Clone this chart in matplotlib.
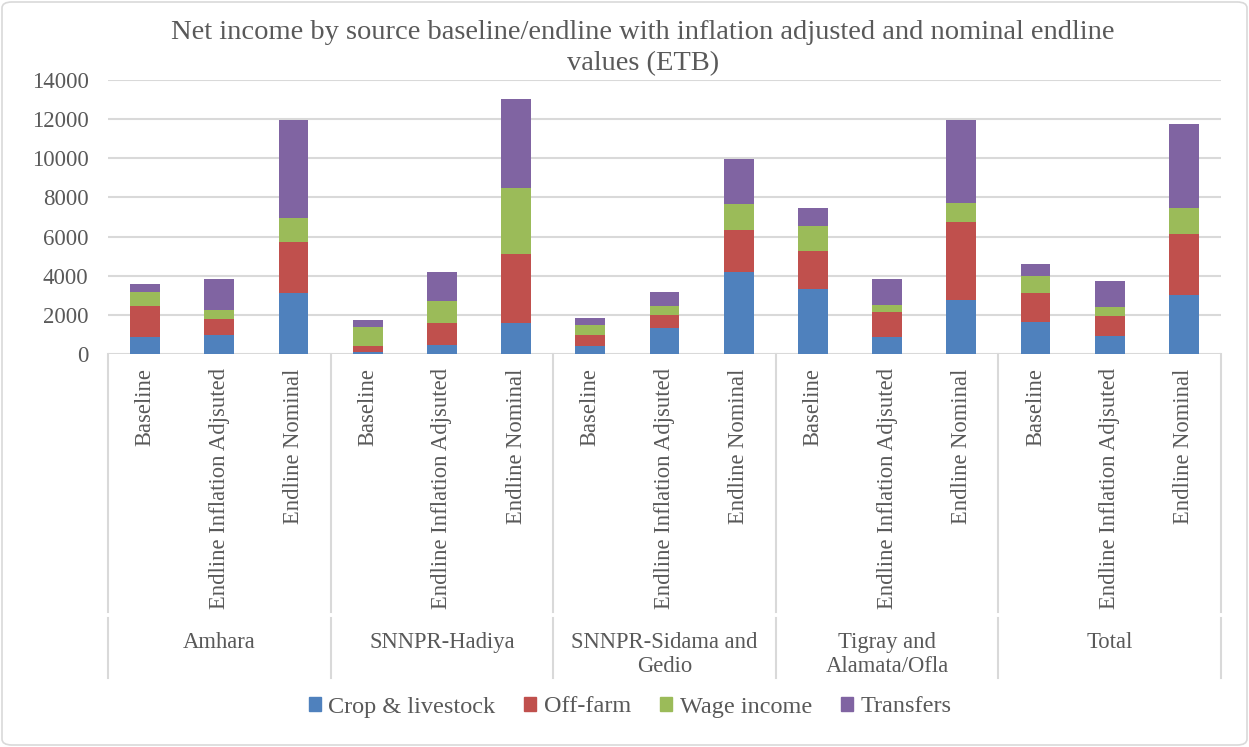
import numpy as np
import matplotlib
matplotlib.use("Agg")
import matplotlib.pyplot as plt
from matplotlib.patches import FancyBboxPatch, Patch

regions = ["Amhara", "SNNPR-Hadiya", "SNNPR-Sidama and\nGedio",
           "Tigray and\nAlamata/Ofla", "Total"]
rounds = ["Baseline", "Endline Inflation Adjsuted", "Endline Nominal"]
sources = ["Crop & livestock", "Off-farm", "Wage income", "Transfers"]

# one value per bar, regions in order, three rounds each (ETB)
crop = [850, 950, 3130, 100, 480, 1560, 410, 1330, 4210,
        3310, 870, 2770, 1650, 930, 3010]
off_farm = [1610, 850, 2600, 320, 1120, 3570, 560, 660, 2130,
            1960, 1270, 3990, 1460, 1010, 3110]
wage = [730, 430, 1200, 970, 1100, 3350, 510, 460, 1320,
        1250, 340, 950, 900, 440, 1340]
transfers = [380, 1580, 5030, 330, 1480, 4530, 350, 740, 2310,
             920, 1330, 4250, 610, 1360, 4300]

colors = ["#4F81BD", "#C0504D", "#9BBB59", "#8064A2"]
txt = "#595959"
grid = "#D9D9D9"

plt.rcParams["font.family"] = ["Liberation Serif", "DejaVu Serif"]

W, H = 1249, 747
fig = plt.figure(figsize=(W / 100, H / 100), dpi=100)
ax = fig.add_axes([108 / W, 1 - 354 / H, (1221 - 108) / W, (354 - 80) / H])

x = np.arange(len(crop))
bottom = np.zeros(len(crop))
for vals, c in zip([crop, off_farm, wage, transfers], colors):
    ax.bar(x, vals, width=0.4, bottom=bottom, color=c, zorder=3)
    bottom += np.array(vals)

ax.set_xlim(-0.5, len(crop) - 0.5)
ax.set_ylim(0, 14000)
ax.set_yticks(np.arange(0, 14001, 2000))
ax.yaxis.grid(True, color=grid, linewidth=1.5, zorder=0)
ax.tick_params(axis="y", length=0, labelsize=16.5, labelcolor=txt, pad=14)
ax.tick_params(axis="x", length=0, labelbottom=False)
for s in ax.spines.values():
    s.set_visible(False)

# category axis drawn by hand: rotated round labels, region names, separators
tr = ax.get_xaxis_transform()
for i in x:
    ax.text(i, -0.052, rounds[i % 3], rotation=90, ha="center", va="top",
            fontsize=16.3, color=txt, transform=tr)
for g, name in enumerate(regions):
    ax.text(3 * g + 1, -1.013, name, ha="center", va="top", fontsize=16.3,
            color=txt, transform=tr, linespacing=1.2)
for b in np.arange(-0.5, len(crop), 3):
    ax.plot([b, b], [0, -0.94], color=grid, lw=1.5, transform=tr, clip_on=False)
    ax.plot([b, b], [-0.965, -1.182], color=grid, lw=1.5, transform=tr,
            clip_on=False)

fig.text(643 / W, 1 - 48 / H,
         "Net income by source baseline/endline with inflation adjusted and nominal endline\nvalues (ETB)",
         ha="center", va="center", fontsize=20.5, color=txt, linespacing=1.35)

handles = [Patch(color=c, label=s) for c, s in zip(colors, sources)]
fig.legend(handles=handles, loc="center", bbox_to_anchor=(630 / W, 1 - 707 / H),
           ncol=4, frameon=False, fontsize=17.5, handlelength=0.5,
           handleheight=0.5, handletextpad=0.3, columnspacing=1.2,
           labelcolor=txt)

fig.patches.append(FancyBboxPatch((2 / W, 2 / H), 1 - 4 / W, 1 - 4 / H,
                                  boxstyle="round,pad=0,rounding_size=0.008",
                                  transform=fig.transFigure, fill=False,
                                  edgecolor=grid, linewidth=1.2))

fig.savefig("out.png", dpi=100)
